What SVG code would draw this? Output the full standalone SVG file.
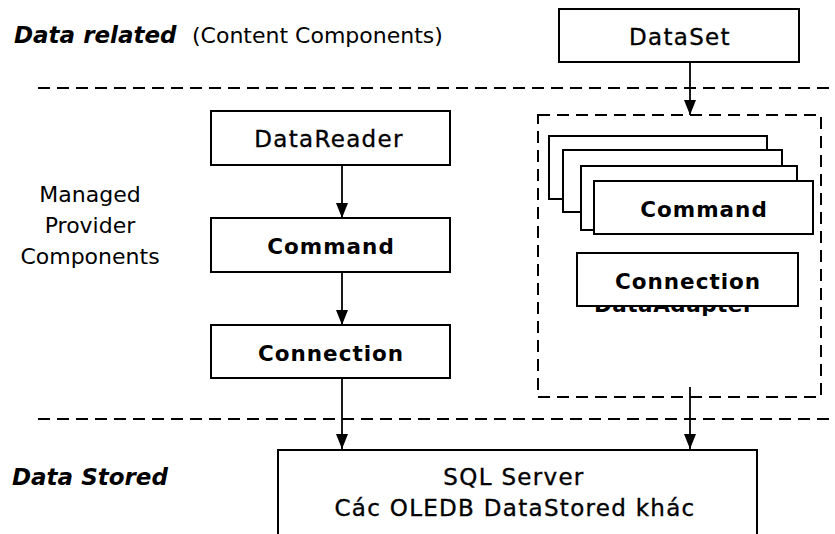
<svg xmlns="http://www.w3.org/2000/svg" width="835" height="534" viewBox="0 0 835 534">
<style>
.box{fill:#fff;stroke:#000;stroke-width:2}
.dash{fill:none;stroke:#000;stroke-width:2;stroke-dasharray:12 7}
.conn{stroke:#000;stroke-width:1.8;fill:none}
.t{font-family:"DejaVu Sans",Verdana,sans-serif;fill:#000}
.lbl{font-size:23px;letter-spacing:1.3px;text-anchor:middle;stroke:#000;stroke-width:0.35}
.bld{font-size:21.5px;font-weight:bold;letter-spacing:1px;text-anchor:middle}
.side{font-size:22px;text-anchor:middle}
.ttl{font-size:23px;font-weight:bold;font-style:italic}
</style>
<defs>
<marker id="ah" markerWidth="15" markerHeight="12" refX="15" refY="6" orient="auto" markerUnits="userSpaceOnUse" viewBox="0 0 15 12">
<path d="M0,0 L15,6 L0,12 Z" fill="#000"/>
</marker>
</defs>
<rect width="835" height="534" fill="#fff"/>

<g id="separators">
<line class="dash" x1="38" y1="88" x2="835" y2="88"/>
<line class="dash" x1="38" y1="419" x2="835" y2="419"/>
</g>

<g id="titles">
<text class="t ttl" x="14" y="43">Data related</text>
<text class="t" x="192" y="43" font-size="22">(Content Components)</text>
<text class="t ttl" x="12" y="485">Data Stored</text>
<text class="t side" x="90" y="202">Managed</text>
<text class="t side" x="90" y="233">Provider</text>
<text class="t side" x="90" y="264">Components</text>
</g>

<g id="dataset">
<rect class="box" x="559" y="9" width="240" height="53"/>
<text class="t lbl" x="680" y="45">DataSet</text>
</g>

<g id="datareader">
<rect class="box" x="211" y="111" width="239" height="54"/>
<text class="t lbl" x="329" y="147">DataReader</text>
</g>

<g id="command-left">
<rect class="box" x="211" y="218" width="239" height="54"/>
<text class="t bld" x="331" y="254">Command</text>
</g>

<g id="connection-left">
<rect class="box" x="211" y="325" width="239" height="53"/>
<text class="t bld" x="331" y="361">Connection</text>
</g>

<g id="dataadapter">
<rect class="dash" x="538" y="115" width="283" height="282"/>
<text class="t" x="674" y="312" font-size="21.5" font-weight="bold" letter-spacing="0.5" text-anchor="middle">DataAdapter</text>
<rect class="box" x="549" y="136" width="218" height="63"/>
<rect class="box" x="563" y="150" width="219" height="62"/>
<rect class="box" x="581" y="166" width="216" height="64"/>
<g id="command-right">
<rect class="box" x="594" y="181" width="219" height="53"/>
<text class="t bld" x="704" y="217">Command</text>
</g>
<g id="connection-right">
<rect class="box" x="577" y="253" width="221" height="53"/>
<text class="t bld" x="688" y="289">Connection</text>
</g>
</g>

<g id="sqlserver">
<rect class="box" x="278" y="450" width="479" height="100"/>
<text class="t lbl" x="514" y="485">SQL Server</text>
<text class="t lbl" x="515" y="516">Các OLEDB DataStored khác</text>
</g>

<g id="connectors">
<line class="conn" x1="690" y1="62" x2="690" y2="115" marker-end="url(#ah)"/>
<line class="conn" x1="342" y1="165" x2="342" y2="218" marker-end="url(#ah)"/>
<line class="conn" x1="342" y1="272" x2="342" y2="325" marker-end="url(#ah)"/>
<line class="conn" x1="342" y1="378" x2="342" y2="449" marker-end="url(#ah)"/>
<line class="conn" x1="690" y1="387" x2="690" y2="449" marker-end="url(#ah)"/>
</g>
</svg>
